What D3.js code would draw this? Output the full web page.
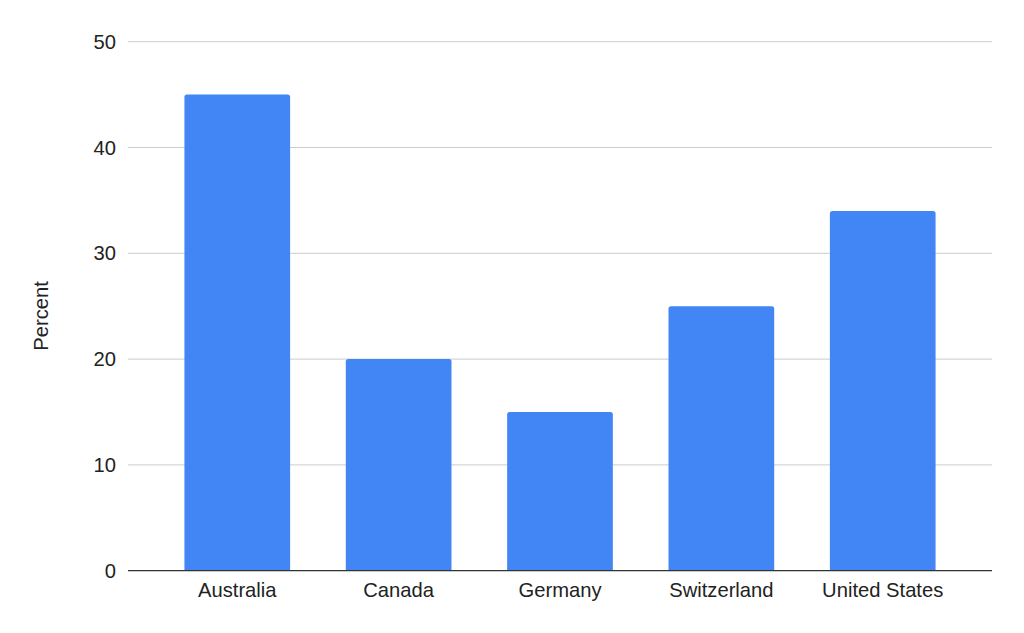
<!DOCTYPE html>
<html><head><meta charset="utf-8">
<script src="https://cdn.jsdelivr.net/npm/d3@7"></script>
<style>body{margin:0;background:#fff}svg{display:block;font-family:"Liberation Sans",Arial,sans-serif}</style>
</head><body><svg id="c" width="1024" height="633"></svg>
<script>
const categories = ["Australia","Canada","Germany","Switzerland","United States"];
const values = [45, 20, 15, 25, 34];
const yTicks = [0,10,20,30,40,50];

(function(){
const svg = d3.select("#c");
const pLeft = 128, pRight = 992, pTop = 41.7, pBottom = 570.7;
const fs = 20.2;
const x = d3.scaleBand().domain(categories).range([157, 963]).paddingInner(0.345).paddingOuter(0.17);
const y = d3.scaleLinear().domain([0,50]).range([pBottom, pTop]);

svg.append("g").selectAll("line").data(yTicks.filter(d=>d>0)).join("line")
  .attr("x1", pLeft).attr("x2", pRight).attr("y1", d=>y(d)).attr("y2", d=>y(d))
  .attr("stroke", "#cccccc").attr("stroke-width", 1);

svg.append("g").selectAll("text").data(yTicks).join("text")
  .attr("x", 116).attr("y", d=>y(d)).attr("dy","0.35em").attr("text-anchor","end")
  .attr("font-size", fs).attr("fill", "#222").text(d=>d);

svg.append("g").selectAll("path").data(categories).join("path")
  .attr("fill", "#4285f4")
  .attr("d", (c,i)=>{
    const x0 = x(c), w = x.bandwidth(), y0 = y(values[i]), yb = y(0), r = 2.5;
    return `M${x0},${yb}V${y0+r}Q${x0},${y0} ${x0+r},${y0}H${x0+w-r}Q${x0+w},${y0} ${x0+w},${y0+r}V${yb}Z`;
  });

svg.append("line").attr("x1", pLeft).attr("x2", pRight).attr("y1", pBottom).attr("y2", pBottom)
  .attr("stroke", "#333").attr("stroke-width", 1.3);

svg.append("g").selectAll("text").data(categories).join("text")
  .attr("x", c=>x(c)+x.bandwidth()/2).attr("y", 597).attr("text-anchor","middle")
  .attr("font-size", fs).attr("fill", "#222").text(c=>c);

svg.append("text").attr("transform","translate(48,316) rotate(-90)").attr("text-anchor","middle")
  .attr("font-size", fs).attr("fill", "#222").text("Percent");
})();
</script></body></html>
